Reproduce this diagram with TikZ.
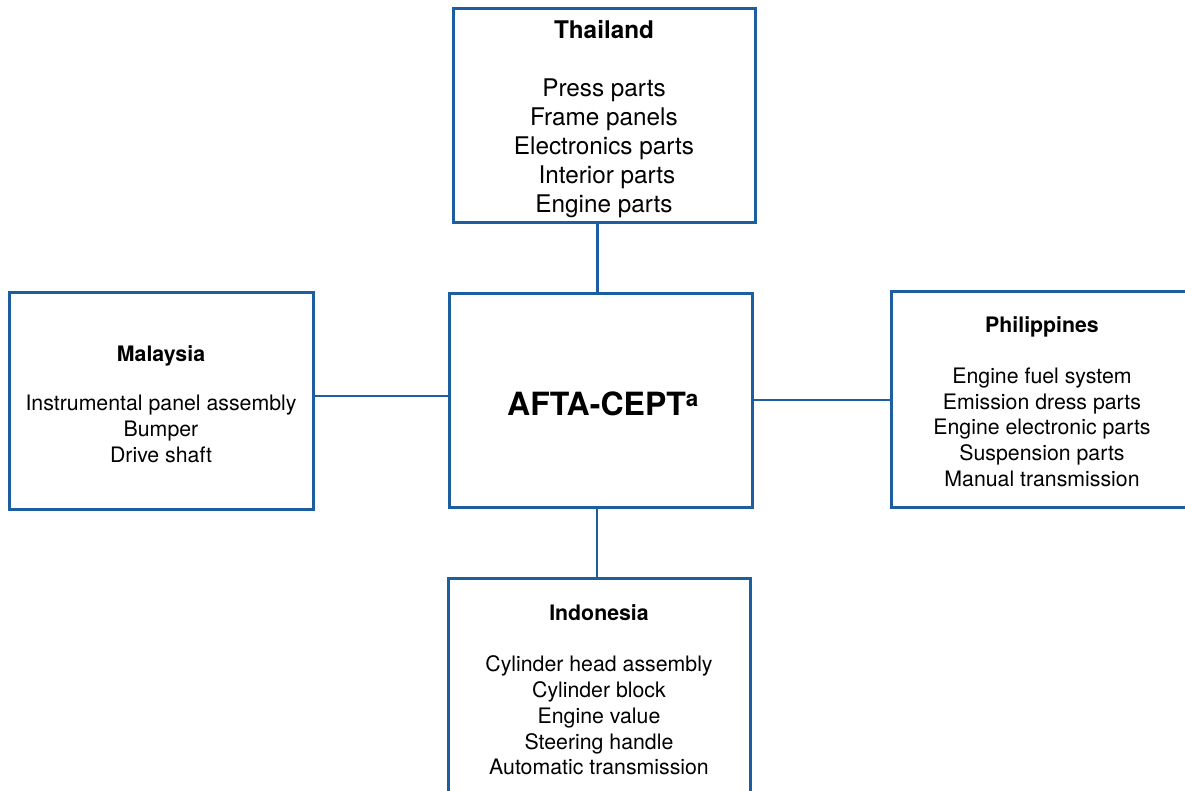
\documentclass[tikz,border=0pt]{standalone}
\usepackage{fontspec}
\setmainfont{TeX Gyre Heros}
\definecolor{boxblue}{RGB}{28,94,160}
\begin{document}
\begin{tikzpicture}[x=1pt,y=-1pt,
  box/.style={draw=boxblue, line width=3pt, rectangle, inner sep=0pt, outer sep=0pt},
  link/.style={draw=boxblue, line width=2.6pt},
  bigtext/.style={align=center, inner sep=0pt, font=\fontsize{24.3}{29}\selectfont},
  smalltext/.style={align=center, inner sep=0pt, font=\fontsize{21.3}{25.7}\selectfont},
  hubtext/.style={inner sep=0pt, font=\fontsize{32}{38}\selectfont\bfseries}]
\useasboundingbox (0,0) rectangle (1185,790);
\clip (0,0) rectangle (1185,790);

% boxes
\node[box, minimum width=301.5pt, minimum height=214.5pt] (thai) at (604.25,115.25) {};
\node[box, minimum width=303pt,   minimum height=214pt]   (hub)  at (600.5,400) {};
\node[box, minimum width=303.5pt, minimum height=216.5pt] (mal)  at (161.25,400.75) {};
\node[box, minimum width=308.5pt, minimum height=216pt]   (phil) at (1045.75,399.5) {};
\node[box, minimum width=302pt,   minimum height=222pt]   (indo) at (599,689) {};

% box contents
\node[bigtext] (thaitxt) at (604,119.4) {{\bfseries Thailand}\\[29pt]
  Press parts\\Frame panels\\Electronics parts\\\hspace{6pt}Interior parts\\Engine parts};
\node[smalltext] (maltxt) at (161,404) {{\bfseries Malaysia}\\[24pt]
  Instrumental panel assembly\\Bumper\\Drive shaft};
\node[smalltext] (philtxt) at (1042,401.5) {{\bfseries Philippines}\\[25.5pt]
  Engine fuel system\\Emission dress parts\\Engine electronic parts\\Suspension parts\\Manual transmission};
\node[smalltext] (indotxt) at (599,690) {{\bfseries Indonesia}\\[25.5pt]
  Cylinder head assembly\\Cylinder block\\Engine value\\Steering handle\\Automatic transmission};
\node[hubtext] (hubtxt) at (603,404) {AFTA-CEPT\textsuperscript{a}};

% connectors
\draw[link] ([xshift=-7pt]thai.south) -- ([xshift=-7pt]thai.south |- hub.north);
\draw[link] ([yshift=4.75pt]mal.east) -- ([yshift=4.75pt]mal.east -| hub.west);
\draw[link] (hub.east) -- (hub.east -| phil.west);
\draw[link] ([xshift=-3.5pt]hub.south) -- ([xshift=-3.5pt]hub.south |- indo.north);
\end{tikzpicture}
\end{document}
